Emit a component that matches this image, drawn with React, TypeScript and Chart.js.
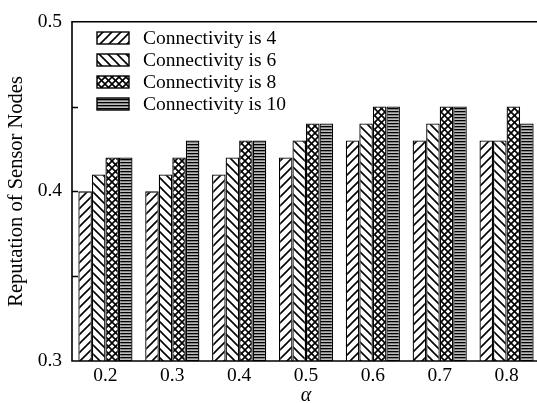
import React, { useEffect, useRef } from "react";
import { Chart, registerables } from "chart.js";

Chart.register(...registerables);

const categories = ["0.2", "0.3", "0.4", "0.5", "0.6", "0.7", "0.8"];
const seriesLabels = ["Connectivity is 4", "Connectivity is 6", "Connectivity is 8", "Connectivity is 10"];
const conn4 = [0.40, 0.40, 0.41, 0.42, 0.43, 0.43, 0.43];
const conn6 = [0.41, 0.41, 0.42, 0.43, 0.44, 0.44, 0.43];
const conn8 = [0.42, 0.42, 0.43, 0.44, 0.45, 0.45, 0.45];
const conn10 = [0.42, 0.43, 0.43, 0.44, 0.45, 0.45, 0.44];
const yMin = 0.3;
const yMax = 0.5;
const yLabelTicks = [0.3, 0.4, 0.5];
const yMarkTicks = [0.35, 0.4, 0.45];

const FONT = "'Liberation Serif', 'Times New Roman', serif";

function makePattern(kind: string): CanvasPattern | string {
  const c = document.createElement("canvas");
  const ctx = c.getContext("2d")!;
  if (kind === "horiz") {
    c.width = 4;
    c.height = 3;
    ctx.fillStyle = "#bcbcbc";
    ctx.fillRect(0, 0, 4, 3);
    ctx.fillStyle = "#000";
    ctx.fillRect(0, 0, 4, 1.3);
    return ctx.createPattern(c, "repeat")!;
  }
  const s = kind === "cross" ? 7 : 9;
  c.width = s;
  c.height = s;
  ctx.fillStyle = "#fff";
  ctx.fillRect(0, 0, s, s);
  ctx.strokeStyle = "#000";
  ctx.lineWidth = 1.6;
  const fwd = () => {
    ctx.beginPath();
    ctx.moveTo(-1, s + 1);
    ctx.lineTo(s + 1, -1);
    ctx.moveTo(-2, 2);
    ctx.lineTo(2, -2);
    ctx.moveTo(s - 2, s + 2);
    ctx.lineTo(s + 2, s - 2);
    ctx.stroke();
  };
  const back = () => {
    ctx.beginPath();
    ctx.moveTo(-1, -1);
    ctx.lineTo(s + 1, s + 1);
    ctx.moveTo(s - 2, -2);
    ctx.lineTo(s + 2, 2);
    ctx.moveTo(-2, s - 2);
    ctx.lineTo(2, s + 2);
    ctx.stroke();
  };
  if (kind === "fwd") fwd();
  if (kind === "back") back();
  if (kind === "cross") {
    fwd();
    back();
  }
  return ctx.createPattern(c, "repeat")!;
}

const framePlugin = {
  id: "frame",
  afterDraw(chart: any) {
    const { ctx, chartArea } = chart;
    const y = chart.scales.y;
    ctx.save();
    ctx.strokeStyle = "#000";
    ctx.lineWidth = 1.6;
    ctx.beginPath();
    ctx.moveTo(chartArea.right + 5, chartArea.top);
    ctx.lineTo(chartArea.left, chartArea.top);
    ctx.lineTo(chartArea.left, chartArea.bottom);
    ctx.lineTo(chartArea.right + 5, chartArea.bottom);
    ctx.stroke();
    ctx.lineWidth = 1.3;
    ctx.beginPath();
    for (const v of yMarkTicks) {
      const py = Math.round(y.getPixelForValue(v)) + 0.5;
      ctx.moveTo(chartArea.left, py);
      ctx.lineTo(chartArea.left + 6, py);
    }
    ctx.stroke();

    // legend
    const rows = chart.data.datasets;
    const boxX = 97;
    const boxW = 32;
    const boxH = 12;
    const textX = 143;
    const startY = 38;
    const rowGap = 22;
    ctx.font = `19.5px ${FONT}`;
    ctx.textBaseline = "middle";
    ctx.textAlign = "left";
    rows.forEach((ds: any, i: number) => {
      const cy = startY + i * rowGap;
      ctx.fillStyle = ds.backgroundColor;
      ctx.fillRect(boxX, cy - boxH / 2, boxW, boxH);
      ctx.lineWidth = 1.4;
      ctx.strokeStyle = "#000";
      ctx.strokeRect(boxX, cy - boxH / 2, boxW, boxH);
      ctx.fillStyle = "#000";
      ctx.fillText(ds.label, textX, cy + 1);
    });
    ctx.restore();
  },
};

export default function App() {
  const ref = useRef<HTMLCanvasElement | null>(null);
  useEffect(() => {
    if (!ref.current) return;
    const kinds = ["fwd", "back", "cross", "horiz"];
    const values = [conn4, conn6, conn8, conn10];
    const chart = new Chart(ref.current, {
      type: "bar",
      data: {
        labels: categories,
        datasets: values.map((vals, i) => ({
          label: seriesLabels[i],
          data: vals,
          backgroundColor: makePattern(kinds[i]) as any,
          borderColor: "#000",
          borderWidth: 1.3,
          borderSkipped: "bottom",
          categoryPercentage: 0.81,
          barPercentage: 1.0,
        })),
      },
      options: {
        animation: false,
        responsive: false,
        layout: { padding: { top: 14, left: 0, right: 0, bottom: 0 } },
        plugins: {
          legend: { display: false },
          tooltip: { enabled: false },
        },
        scales: {
          x: {
            grid: { display: false, drawTicks: false },
            border: { display: false },
            ticks: {
              color: "#000",
              font: { family: FONT, size: 19.5 },
              padding: 3,
              maxRotation: 0,
            },
            title: {
              display: true,
              text: "α",
              color: "#000",
              font: { family: FONT, size: 20, style: "italic" },
              padding: { top: 0, bottom: -5 },
            },
            afterFit: (s: any) => {
              s.height = 42;
            },
          },
          y: {
            min: yMin,
            max: yMax,
            grid: { display: false, drawTicks: false },
            border: { display: false },
            afterBuildTicks: (s: any) => {
              s.ticks = yLabelTicks.map((v) => ({ value: v }));
            },
            ticks: {
              color: "#000",
              font: { family: FONT, size: 19.5 },
              padding: 10,
              callback: (v: any) => Number(v).toFixed(1),
            },
            title: {
              display: true,
              text: "Reputation of Sensor Nodes",
              color: "#000",
              font: { family: FONT, size: 20.5 },
              padding: { top: 4, bottom: 0 },
            },
            afterFit: (s: any) => {
              s.width = 72;
            },
          },
        },
      },
      plugins: [framePlugin],
    });
    return () => chart.destroy();
  }, []);
  return (
    <div
      style={{
        position: "fixed",
        left: 0,
        top: 0,
        width: 537,
        height: 403,
        overflow: "hidden",
        background: "#fff",
      }}
    >
      <canvas ref={ref} width={540} height={403} style={{ display: "block" }} />
    </div>
  );
}
